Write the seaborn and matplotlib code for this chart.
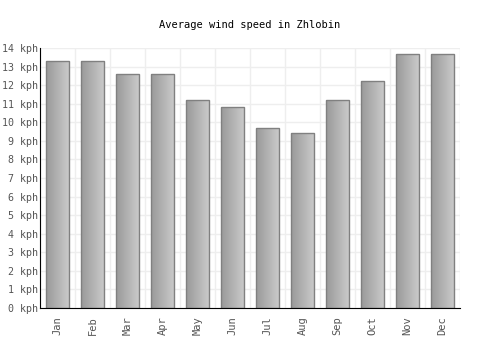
import numpy as np
import pandas as pd
import seaborn as sns
import matplotlib.pyplot as plt

months = ['Jan', 'Feb', 'Mar', 'Apr', 'May', 'Jun',
          'Jul', 'Aug', 'Sep', 'Oct', 'Nov', 'Dec']
wind_kph = [13.3, 13.3, 12.6, 12.6, 11.2, 10.8, 9.7, 9.4, 11.2, 12.2, 13.7, 13.7]

df = pd.DataFrame({'month': months, 'wind': wind_kph})

sns.set_style('white')
plt.rcParams['font.family'] = ['DejaVu Sans Mono']

fig = plt.figure(figsize=(5, 3.5), dpi=100)
ax = fig.add_axes([0.08, 0.12, 0.84, 0.743])

sns.barplot(data=df, x='month', y='wind', color='#b0b0b0', width=0.66,
            edgecolor='#808080', linewidth=1.0, ax=ax, zorder=3)

# horizontal gradient inside each bar
grad = np.linspace(0, 1, 256).reshape(1, -1)
cmap = plt.matplotlib.colors.LinearSegmentedColormap.from_list('g', ['#999999', '#cccccc'])
for p in ax.patches:
    x0, y0 = p.get_x(), p.get_y()
    w, h = p.get_width(), p.get_height()
    im = ax.imshow(grad, cmap=cmap, aspect='auto', extent=[x0, x0 + w, y0, y0 + h],
                   zorder=3.5)
    im.set_clip_path(p)
    p.set_facecolor('none')
    p.set_zorder(4)

ax.set_xlim(-0.5, 11.5)
ax.set_ylim(0, 14)
ax.set_yticks(range(0, 15))
ax.set_yticklabels([f'{v} kph' for v in range(0, 15)])
ax.set_xticks(np.arange(-0.5, 12, 1), minor=True)
ax.grid(True, which='minor', axis='x', color='#eeeeee', linewidth=1, zorder=0)
ax.grid(True, which='major', axis='y', color='#eeeeee', linewidth=1, zorder=0)
ax.tick_params(axis='x', which='both', length=0, rotation=90, labelsize=7.5, colors='#555555', pad=6)
ax.tick_params(axis='y', length=0, labelsize=7.2, colors='#555555', pad=1.5)

ax.set_xlabel('')
ax.set_ylabel('')
for s in ['top', 'right']:
    ax.spines[s].set_visible(False)
ax.spines['left'].set_color('black')
ax.spines['bottom'].set_color('black')
ax.spines['left'].set_zorder(5)
ax.spines['bottom'].set_zorder(5)

fig.text(0.5, 0.928, 'Average wind speed in Zhlobin', ha='center', va='center',
         fontsize=7.5, color='black')

fig.savefig('out.png', dpi=100)
